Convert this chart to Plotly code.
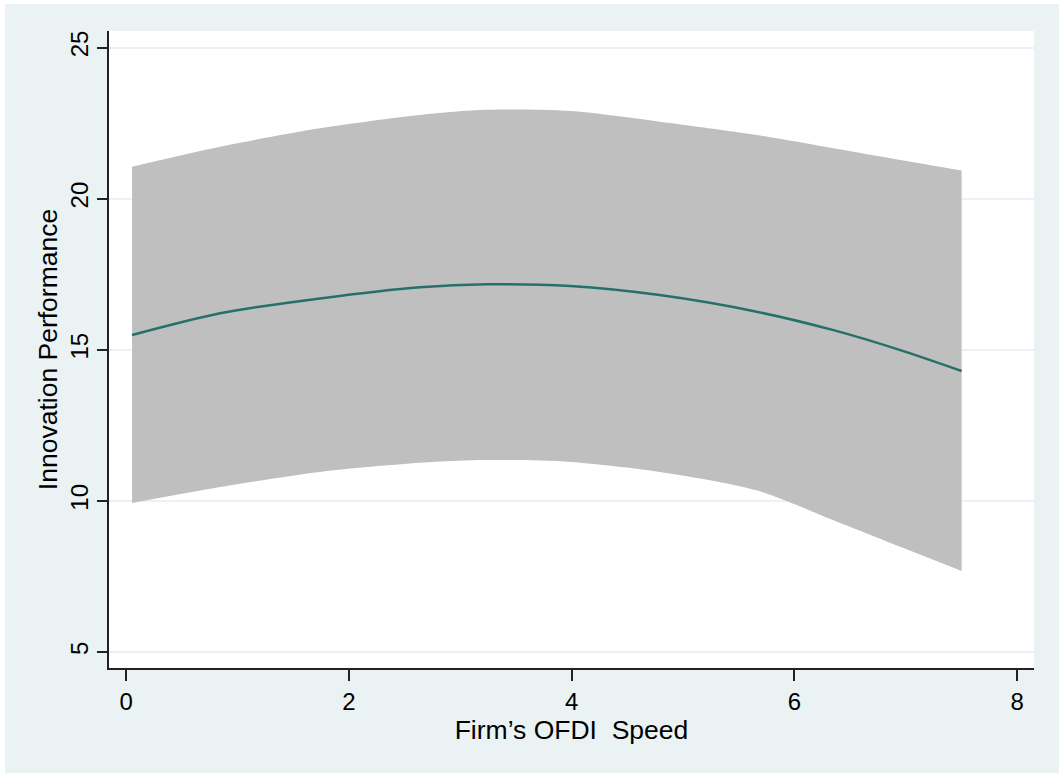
import plotly.graph_objects as go

# Data
speed = [0.054, 0.844, 1.741, 2.639, 3.24, 3.99, 4.79, 5.66, 6.35, 6.95, 7.50]
fitted = [15.49, 16.21, 16.70, 17.07, 17.17, 17.11, 16.81, 16.26, 15.65, 14.99, 14.30]
ci_upper = [21.06, 21.72, 22.33, 22.77, 22.94, 22.90, 22.55, 22.11, 21.67, 21.28, 20.93]
ci_lower = [9.93, 10.46, 10.96, 11.26, 11.35, 11.29, 10.96, 10.35, 9.36, 8.48, 7.68]

x_ticks = [0, 2, 4, 6, 8]
y_ticks = [5, 10, 15, 20, 25]

BG = "#EAF2F3"
FONT = "Liberation Sans, Arial, sans-serif"

fig = go.Figure()
fig.add_trace(go.Scatter(x=speed, y=ci_lower, mode="lines",
                         line=dict(width=0, color="#BFBFBF", shape="spline", smoothing=0.8),
                         showlegend=False, hoverinfo="skip"))
fig.add_trace(go.Scatter(x=speed, y=ci_upper, mode="lines",
                         line=dict(width=0, color="#BFBFBF", shape="spline", smoothing=0.8),
                         fill="tonexty", fillcolor="#BFBFBF", showlegend=False, hoverinfo="skip"))
fig.add_trace(go.Scatter(x=speed, y=fitted, mode="lines",
                         line=dict(width=2.5, color="#26706A", shape="spline", smoothing=0.8),
                         showlegend=False))

W, H = 1059, 773
L, R, T, B = 109, 25, 31, 105
pw, ph = W - L - R, H - T - B

fig.update_layout(
    width=W, height=H,
    margin=dict(l=L, r=R, t=T, b=B),
    paper_bgcolor=BG, plot_bgcolor="white",
    font=dict(family=FONT, size=24, color="black"),
    shapes=[
        dict(type="rect", xref="paper", yref="paper", x0=-L / pw, x1=-(L - 5) / pw, y0=-B / ph, y1=1 + T / ph,
             fillcolor="white", line=dict(width=0), layer="below"),
        dict(type="rect", xref="paper", yref="paper", x0=-L / pw, x1=1 + R / pw, y0=1 + (T - 4) / ph, y1=1 + T / ph,
             fillcolor="white", line=dict(width=0), layer="below"),
    ],
)
fig.update_xaxes(
    range=[-0.153, 8.15], tickvals=x_ticks, ticktext=[str(v) for v in x_ticks],
    showgrid=False, zeroline=False, showline=True, linecolor="#222222", linewidth=1.5,
    ticks="outside", ticklen=11, tickwidth=1.5, tickcolor="#222222",
    tickfont=dict(size=24), title=dict(text="Firm\u2019s OFDI  Speed", font=dict(size=26.5), standoff=4),
)
fig.update_yaxes(
    range=[4.47, 25.55], tickvals=y_ticks, ticktext=[str(v) for v in y_ticks],
    showgrid=True, gridcolor=BG, gridwidth=1.5, zeroline=False,
    showline=True, linecolor="#222222", linewidth=1.5,
    ticks="outside", ticklen=10, tickwidth=1.5, tickcolor="#222222", tickangle=-90,
    ticklabeloverflow="allow",
    tickfont=dict(size=24), title=dict(text="Innovation Performance", font=dict(size=26.5), standoff=0),
)

fig.write_html("out.html", config={"displayModeBar": False},
               post_script="document.body.style.margin='0';")
